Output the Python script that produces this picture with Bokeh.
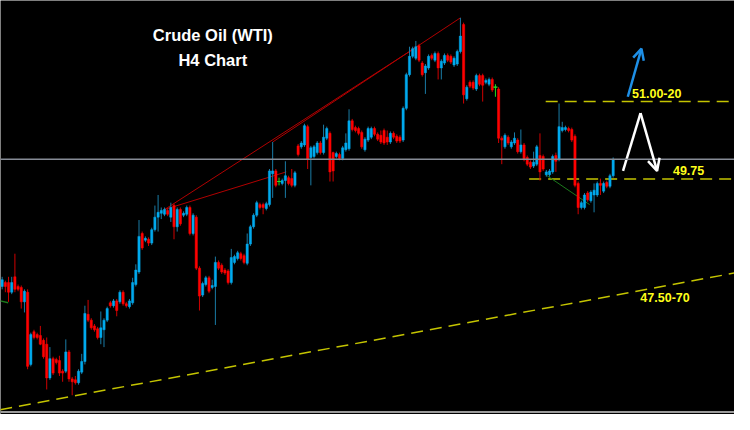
from bokeh.plotting import figure
from bokeh.models import Range1d, ColumnDataSource, Arrow, OpenHead, Span
from bokeh.embed import file_html
from bokeh.resources import INLINE
from bokeh.core.properties import value

# ---- H4 candles (price) ----
open_ = [
47.51, 47.59, 47.59, 47.39, 47.71, 47.51, 47.49, 47.19, 47.39, 45.89,
46.57, 46.51, 46.49, 46.39, 46.31, 45.61, 46.01, 45.99, 45.97, 45.75,
45.75, 46.15, 45.59, 45.57, 45.51, 45.73, 45.95, 46.93, 46.81, 46.69,
46.63, 46.45, 46.61, 46.81, 47.17, 47.11, 47.21, 47.19, 47.39, 47.15,
47.09, 47.17, 47.55, 47.81, 48.61, 48.47, 48.49, 48.41, 48.69, 48.95,
49.03, 49.01, 49.09, 48.95, 49.19, 48.75, 49.11, 48.99, 49.01, 49.15,
48.61, 48.95, 47.89, 47.33, 47.55, 47.69, 47.49, 47.51, 48.01, 47.95,
47.85, 47.83, 47.59, 48.01, 48.09, 48.19, 48.15, 47.99, 48.39, 48.75,
48.99, 49.21, 49.21, 49.13, 49.21, 49.85, 49.91, 49.69, 49.65, 49.71,
49.77, 49.75, 49.61, 50.43, 50.41, 50.45, 50.83, 50.19, 50.21, 50.29,
50.49, 50.29, 50.59, 50.69, 50.29, 50.21, 50.25, 50.17, 50.35, 50.37,
50.95, 50.81, 50.79, 50.71, 50.35, 50.55, 50.61, 50.79, 50.67, 50.65,
50.75, 50.61, 50.51, 50.69, 50.63, 50.61, 50.55, 51.21, 51.91, 52.29,
52.25, 52.51, 52.15, 51.95, 52.05, 52.31, 52.21, 52.35, 52.05, 52.15,
52.31, 52.29, 52.11, 52.13, 52.39, 52.95, 51.41, 51.75, 51.75, 51.61,
51.89, 51.89, 51.75, 51.71, 51.81, 51.65, 51.61, 50.59, 50.41, 50.61,
50.41, 50.49, 50.55, 50.31, 50.45, 50.19, 50.09, 50.01, 50.05, 50.23,
50.21, 49.83, 49.83, 49.89, 50.23, 50.15, 50.75, 50.77, 50.79, 50.77,
50.63, 49.65, 49.15, 49.15, 49.45, 49.29, 49.41, 49.41, 49.65, 49.49,
49.67, 49.59, 49.81]

high = [
47.71, 47.63, 47.71, 47.71, 48.19, 47.55, 47.53, 47.45, 47.45, 46.55,
46.61, 46.55, 46.69, 46.43, 46.45, 46.25, 46.05, 46.03, 46.07, 45.79,
46.41, 46.19, 45.63, 45.65, 45.79, 46.11, 47.11, 47.23, 46.85, 46.73,
46.67, 46.99, 46.85, 47.09, 47.21, 47.25, 47.25, 47.43, 47.43, 47.19,
47.25, 47.69, 47.97, 48.89, 48.65, 48.55, 48.53, 48.73, 49.19, 49.41,
49.15, 49.15, 49.13, 49.25, 49.23, 49.15, 49.15, 49.07, 49.19, 49.19,
49.03, 48.99, 47.93, 47.61, 47.73, 47.73, 47.65, 48.13, 48.05, 47.99,
47.89, 47.87, 48.29, 48.17, 48.25, 48.23, 48.19, 48.61, 48.79, 49.03,
49.29, 49.25, 49.25, 49.27, 49.95, 50.51, 49.95, 49.77, 49.75, 50.11,
49.81, 49.95, 49.91, 50.47, 50.53, 50.89, 50.87, 50.43, 50.45, 50.53,
50.53, 50.87, 50.83, 50.73, 50.31, 50.31, 50.29, 50.43, 50.69, 51.19,
50.99, 50.85, 50.83, 50.75, 50.61, 50.83, 50.83, 50.83, 50.71, 50.75,
50.79, 50.75, 50.73, 50.73, 50.67, 50.65, 51.25, 51.95, 52.49, 52.49,
52.61, 52.55, 52.19, 52.13, 52.33, 52.35, 52.39, 52.39, 52.23, 52.35,
52.35, 52.33, 52.29, 52.43, 53.09, 52.99, 51.69, 51.79, 51.79, 51.93,
51.93, 51.93, 51.83, 51.85, 51.85, 51.71, 51.65, 50.63, 50.69, 50.65,
50.55, 50.71, 50.59, 50.77, 50.49, 50.23, 50.13, 50.31, 50.45, 50.69,
50.25, 49.93, 49.95, 50.25, 50.29, 51.31, 50.93, 50.85, 50.83, 50.81,
50.67, 49.69, 49.29, 49.45, 49.49, 49.51, 49.65, 49.69, 49.75, 49.69,
49.71, 49.85, 50.19]

low = [
47.45, 47.39, 47.19, 47.35, 47.39, 47.41, 47.05, 46.97, 45.79, 45.85,
46.41, 46.41, 46.29, 46.01, 45.37, 45.57, 45.67, 45.89, 45.65, 45.53,
45.71, 45.53, 45.25, 45.47, 45.47, 45.69, 45.89, 46.77, 46.61, 46.57,
46.41, 46.31, 46.25, 46.77, 47.07, 47.07, 46.89, 47.15, 47.11, 47.07,
47.05, 47.13, 47.51, 47.77, 48.27, 48.43, 48.35, 48.37, 48.65, 48.65,
48.91, 48.97, 48.97, 48.85, 48.49, 48.65, 48.77, 48.95, 48.97, 48.57,
48.57, 47.85, 47.01, 47.29, 47.51, 47.37, 47.45, 46.71, 47.85, 47.77,
47.75, 47.55, 47.55, 47.97, 48.05, 48.05, 47.97, 47.95, 48.35, 48.71,
48.95, 49.11, 49.01, 49.09, 49.17, 49.35, 49.57, 49.61, 49.61, 49.35,
49.61, 49.57, 49.57, 50.21, 50.37, 50.41, 49.95, 49.61, 50.17, 50.25,
50.25, 50.25, 50.55, 49.69, 49.69, 50.17, 50.13, 50.13, 50.31, 50.33,
50.73, 50.71, 50.65, 50.37, 50.31, 50.51, 50.57, 50.63, 50.53, 50.47,
50.45, 50.45, 50.47, 50.57, 50.49, 50.49, 50.51, 51.17, 51.87, 52.25,
52.21, 52.17, 51.87, 51.51, 52.01, 52.21, 52.17, 51.81, 51.81, 52.11,
52.17, 52.13, 52.07, 52.09, 52.35, 51.31, 51.37, 51.63, 51.59, 51.57,
51.67, 51.35, 51.71, 51.67, 51.55, 51.45, 50.49, 50.05, 50.37, 50.45,
50.37, 50.45, 50.27, 50.27, 50.11, 50.01, 49.95, 49.97, 50.01, 49.71,
49.91, 49.79, 49.79, 49.85, 49.89, 50.11, 50.71, 50.73, 50.71, 50.51,
49.57, 49.01, 49.11, 49.11, 49.27, 49.25, 49.05, 49.37, 49.41, 49.45,
49.55, 49.55, 49.77]

close = [
47.65, 47.51, 47.39, 47.59, 47.45, 47.45, 47.19, 47.41, 45.85, 46.51,
46.45, 46.45, 46.31, 46.05, 45.61, 46.01, 45.71, 45.93, 45.71, 45.71,
46.15, 45.59, 45.53, 45.51, 45.75, 45.95, 46.95, 46.81, 46.65, 46.61,
46.45, 46.65, 46.81, 47.05, 47.11, 47.21, 47.01, 47.39, 47.15, 47.11,
47.21, 47.59, 47.85, 48.55, 48.31, 48.51, 48.41, 48.69, 48.95, 49.05,
49.09, 49.11, 49.01, 49.15, 48.75, 49.11, 48.81, 49.03, 49.15, 48.61,
48.99, 47.89, 47.31, 47.57, 47.69, 47.41, 47.53, 48.01, 47.89, 47.81,
47.79, 47.59, 48.11, 48.13, 48.21, 48.09, 48.01, 48.39, 48.75, 48.99,
49.25, 49.15, 49.15, 49.23, 49.91, 49.91, 49.61, 49.69, 49.71, 49.81,
49.65, 49.61, 49.87, 50.25, 50.49, 50.85, 50.15, 50.39, 50.41, 50.49,
50.29, 50.61, 50.79, 49.89, 49.91, 50.27, 50.17, 50.39, 50.49, 50.95,
50.77, 50.75, 50.69, 50.41, 50.57, 50.79, 50.79, 50.67, 50.57, 50.51,
50.49, 50.51, 50.69, 50.61, 50.53, 50.53, 51.21, 51.91, 52.29, 52.45,
52.49, 52.21, 51.91, 52.09, 52.29, 52.25, 52.35, 52.05, 52.19, 52.31,
52.21, 52.17, 52.25, 52.39, 52.71, 51.49, 51.65, 51.67, 51.63, 51.89,
51.71, 51.69, 51.79, 51.81, 51.59, 51.65, 50.59, 50.55, 50.65, 50.49,
50.51, 50.59, 50.31, 50.45, 50.15, 50.05, 49.99, 50.09, 50.41, 49.89,
49.95, 49.89, 49.91, 50.21, 50.11, 50.83, 50.81, 50.81, 50.75, 50.55,
49.61, 49.15, 49.25, 49.41, 49.31, 49.47, 49.51, 49.65, 49.61, 49.65,
49.59, 49.81, 50.15]

# ---- annotations (bar index, price) ----
current_price = 50.15
bottom_rule = 44.90
title_lines = ["Crude Oil (WTI)", "H4 Chart"]
title_x = [66.2, 66.2]
title_y = [52.73, 52.21]

level_labels = ["51.00-20", "49.75", "47.50-70"]
level_label_x = [205.7, 215.7, 208.3]
level_label_y = [51.51, 49.91, 47.29]

resist_x = [170.8, 232.0]; resist_y = [51.35, 51.35]
support_x = [165.6, 232.0]; support_y = [49.74, 49.74]
trend_x = [-0.6, 230.2]; trend_y = [44.95, 47.79]

red_l1_x = [51.1, 130.8]; red_l1_y = [49.11, 52.51]
red_l2_x = [85.0, 144.0]; red_l2_y = [50.51, 53.09]
red_l3_x = [51.1, 89.3]; red_l3_y = [49.11, 49.89]
green_x = [170.8, 184.6]; green_y = [49.83, 49.21]
green_left_x = [-0.6, 1.9]; green_left_y = [47.21, 47.17]

blue_arrow = (196.6, 51.45, 200.9, 52.45)
white_up = ([195.1, 200.6], [49.91, 51.11])
white_down = (200.6, 51.11, 205.8, 49.91)

n = len(close)
idx = list(range(n))

def subset(cond):
    sel = [i for i in idx if cond(i)]
    return ColumnDataSource(dict(
        x=sel,
        top=[max(open_[i], close[i]) for i in sel],
        bottom=[min(open_[i], close[i]) for i in sel],
        high=[high[i] for i in sel],
        low=[low[i] for i in sel],
    ))

up = subset(lambda i: close[i] > open_[i])
dn = subset(lambda i: close[i] < open_[i])
dj = subset(lambda i: close[i] == open_[i])

p = figure(width=734, height=414, output_backend="svg", toolbar_location=None,
           x_range=Range1d(-0.523, 230.13), y_range=Range1d(44.85, 53.45),
           x_axis_location=None, y_axis_location=None,
           background_fill_color="black", border_fill_color="black",
           min_border=0, outline_line_color=None)
p.grid.visible = False

p.add_layout(Span(location=current_price, dimension="width",
                  line_color="#868b96", line_width=1.5))
p.add_layout(Span(location=bottom_rule, dimension="width",
                  line_color="#9a9a9a", line_width=2))

# trend / level lines
p.line(trend_x, trend_y, line_color="#c4c400", line_width=1.5, line_dash="12 7")
p.line(resist_x, resist_y, line_color="#c4c400", line_width=1.5, line_dash="12 7")
p.line(support_x, support_y, line_color="#c4c400", line_width=1.5, line_dash="12 7")

p.line(red_l1_x, red_l1_y, line_color="#b00000", line_width=1)
p.line(red_l2_x, red_l2_y, line_color="#b00000", line_width=1)
p.line(red_l3_x, red_l3_y, line_color="#b00000", line_width=1)
p.line(green_x, green_y, line_color="#1c7a1c", line_width=1)
p.line(green_left_x, green_left_y, line_color="#1c7a1c", line_width=1.5)

# candles
p.segment(x0="x", y0="high", x1="x", y1="low", source=up, line_color="#1a7ca6", line_width=1)
p.segment(x0="x", y0="high", x1="x", y1="low", source=dn, line_color="#d00000", line_width=1)
p.segment(x0="x", y0="high", x1="x", y1="low", source=dj, line_color="#22dd22", line_width=1)
p.vbar(x="x", top="top", bottom="bottom", width=0.7, source=up,
       fill_color="#00aaee", line_color="#00aaee", line_width=0.5)
p.vbar(x="x", top="top", bottom="bottom", width=0.7, source=dn,
       fill_color="#ff0000", line_color="#ff0000", line_width=0.5)
p.vbar(x="x", top="top", bottom="bottom", width=1.2, source=dj,
       fill_color="#22dd22", line_color="#22dd22", line_width=1)

# arrows
bx0, by0, bx1, by1 = blue_arrow
p.add_layout(Arrow(end=OpenHead(size=11, line_color="#1e8fe6", line_width=2.5),
                   x_start=bx0, y_start=by0, x_end=bx1, y_end=by1,
                   line_color="#1e8fe6", line_width=2.5))
p.line(white_up[0], white_up[1], line_color="white", line_width=2.5)
wx0, wy0, wx1, wy1 = white_down
p.add_layout(Arrow(end=OpenHead(size=12, line_color="white", line_width=2.5),
                   x_start=wx0, y_start=wy0, x_end=wx1, y_end=wy1,
                   line_color="white", line_width=2.5))

# texts
p.text(x=title_x, y=title_y, text=title_lines, text_color="white",
       text_font=value("Liberation Sans"), text_font_style="bold",
       text_font_size="16.5px", text_align="center", text_baseline="middle")
p.text(x=level_label_x, y=level_label_y, text=level_labels, text_color="#ffff1a",
       text_font=value("Liberation Sans"), text_font_style="bold",
       text_font_size="12.5px", text_align="center", text_baseline="middle")

html = file_html(p, INLINE).replace("<body>", '<body style="background-color:#000000;">', 1)
open("out.html", "w").write(html)
